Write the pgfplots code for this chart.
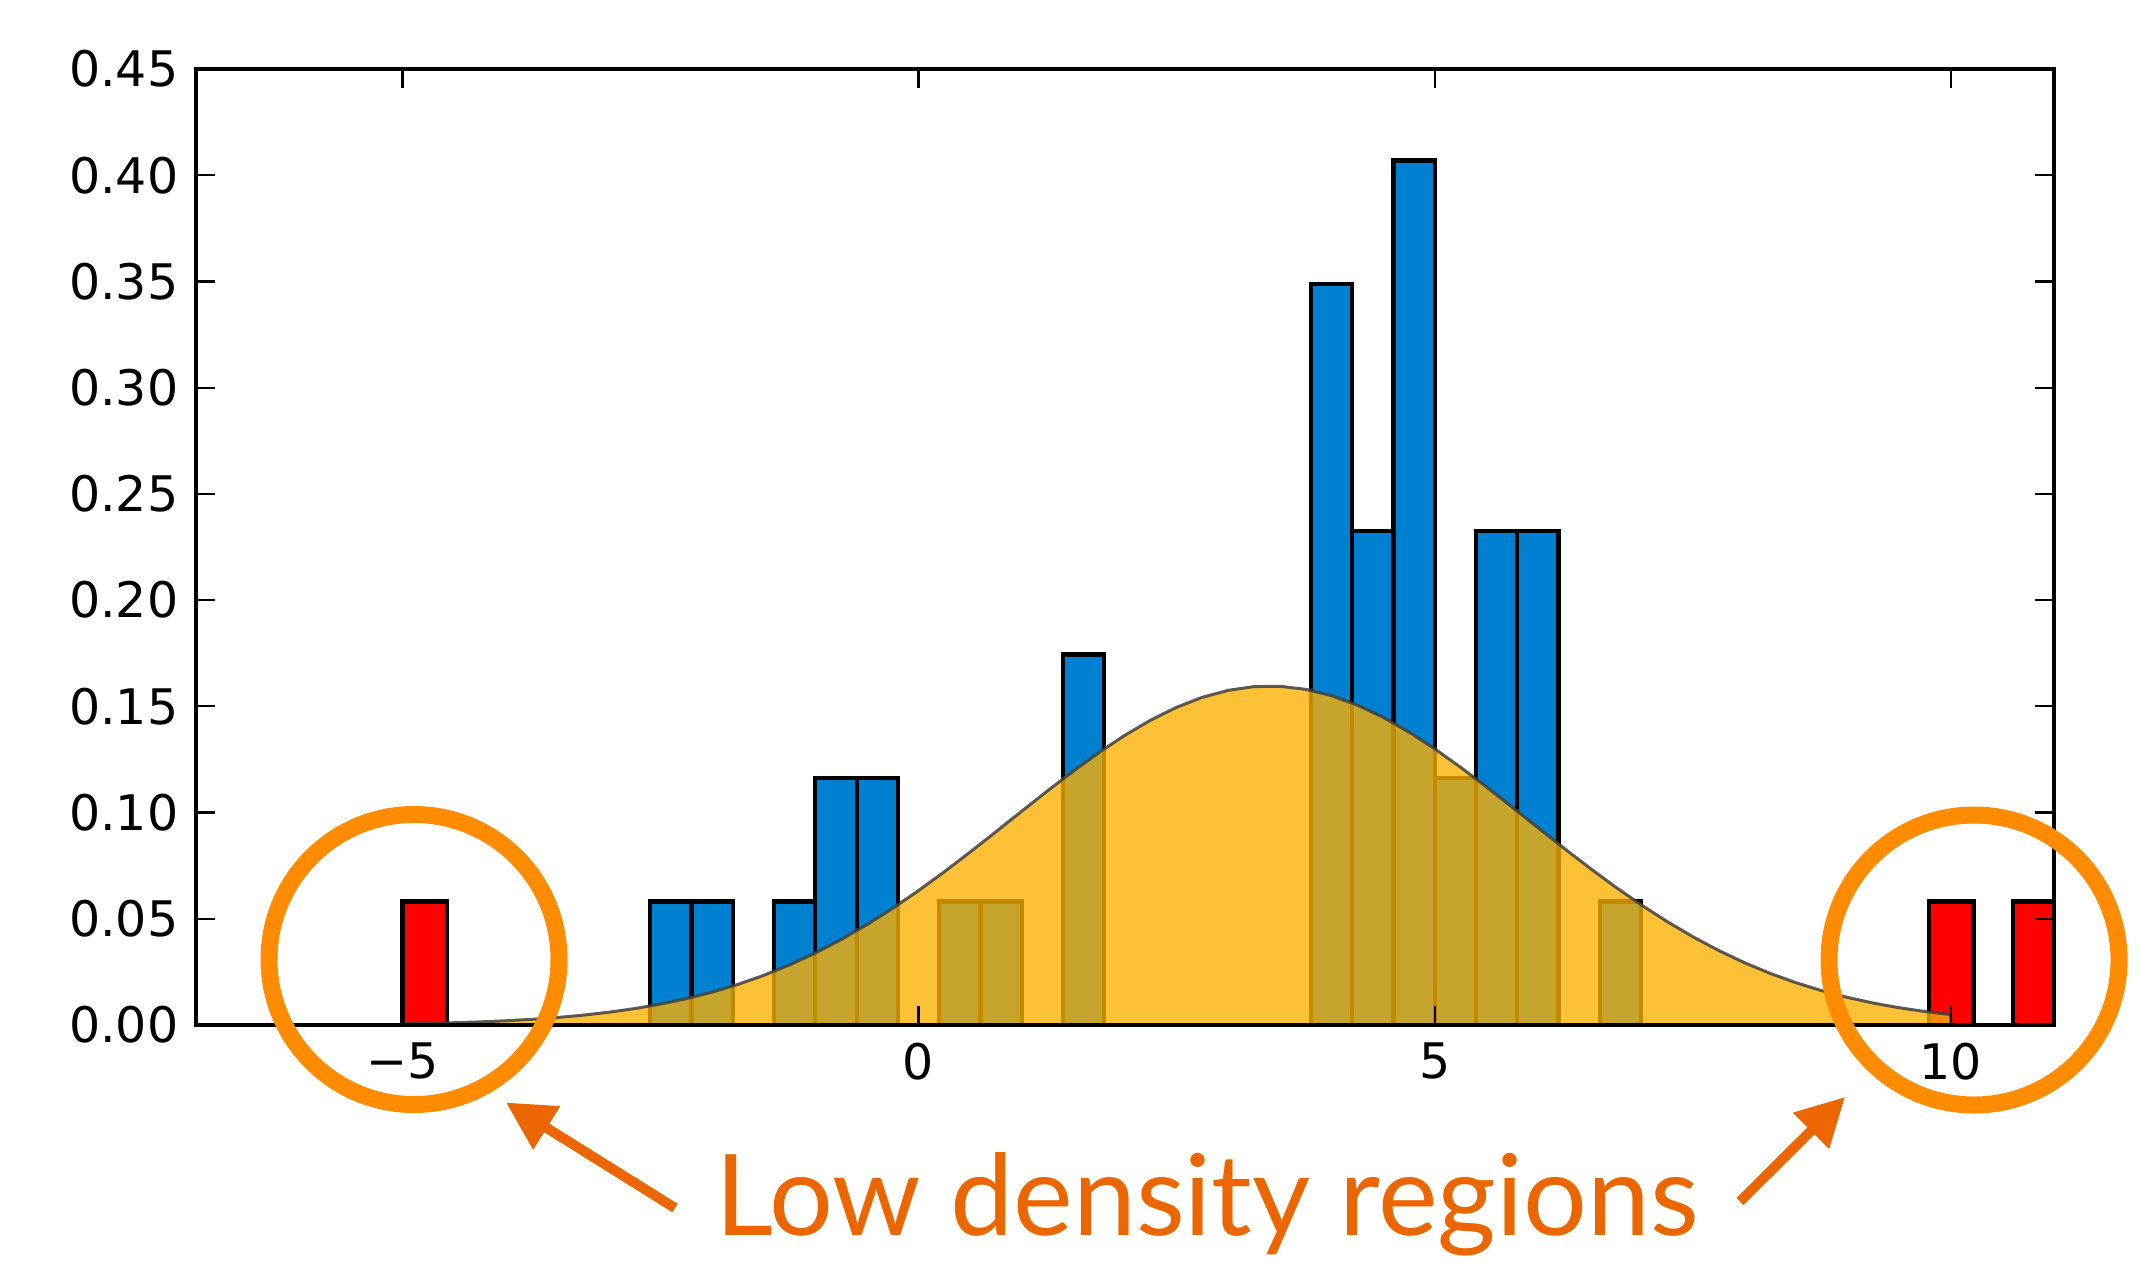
\documentclass[border=0pt]{standalone}
\usepackage{fontspec}
\setmainfont{DejaVu Sans}
\newfontfamily\gillfont{Lato}
\usepackage{graphicx}
\usepackage{pgfplots}
\pgfplotsset{compat=1.18}
\usetikzlibrary{arrows.meta}

\definecolor{barblue}{RGB}{0,128,208}
\definecolor{gaussyellow}{RGB}{253,176,0}
\definecolor{ringorange}{RGB}{255,140,0}
\definecolor{arroworange}{RGB}{236,102,0}

\begin{document}
\begin{tikzpicture}
\path[use as bounding box] (0,0) rectangle (428pt,255.6pt);
\begin{axis}[
    at={(39.2pt,50.6pt)}, anchor=south west,
    scale only axis, width=371.6pt, height=191.2pt,
    xmin=-7, xmax=11, ymin=0, ymax=0.45,
    xtick={-5,0,5,10}, xticklabels={−5,0,5,10},
    ytick={0,0.05,0.10,0.15,0.20,0.25,0.30,0.35,0.40,0.45},
    yticklabels={0.00,0.05,0.10,0.15,0.20,0.25,0.30,0.35,0.40,0.45},
    tick align=inside, tick pos=both,
    major tick length=3.8pt,
    every tick/.style={black, line width=0.45pt},
    axis line style={line width=0.85pt},
    tick label style={font=\fontsize{9.8}{12}\selectfont},
    axis on top,
]
% blue histogram (bins of 0.4)
\addplot[ybar interval, fill=barblue, draw=black, line width=0.85pt] coordinates {
    (-2.6,0.0581) (-2.2,0.0581) (-1.8,0) (-1.4,0.0581) (-1.0,0.1163)
    (-0.6,0.1163) (-0.2,0) (0.2,0.0581) (0.6,0.0581) (1.0,0)
    (1.4,0.1744) (1.8,0) (2.2,0) (2.6,0) (3.0,0) (3.4,0)
    (3.8,0.3488) (4.2,0.2326) (4.6,0.4070) (5.0,0.1163) (5.4,0.2326)
    (5.8,0.2326) (6.2,0) (6.6,0.0581) (7.0,0)
};
% outliers
\addplot[ybar interval, fill=red, draw=black, line width=0.85pt] coordinates {(-5.0,0.0581) (-4.57,0)};
\addplot[ybar interval, fill=red, draw=black, line width=0.85pt] coordinates {(9.79,0.0581) (10.22,0)};
\addplot[ybar interval, fill=red, draw=black, line width=0.85pt] coordinates {(10.6,0.0581) (11.0,0)};
% fitted gaussian
\addplot[sharp plot, draw=black!75, draw opacity=0.85, line width=0.6pt,
         fill=gaussyellow, fill opacity=0.78] coordinates {
    (-5.0,0.000565) (-4.75,0.000786) (-4.5,0.001084) (-4.25,0.001479)
    (-4.0,0.001998) (-3.75,0.002672) (-3.5,0.003540) (-3.25,0.004641)
    (-3.0,0.006025) (-2.75,0.007743) (-2.5,0.009852) (-2.25,0.012411)
    (-2.0,0.015482) (-1.75,0.019122) (-1.5,0.023378) (-1.25,0.028295)
    (-1.0,0.033911) (-0.75,0.040237) (-0.5,0.047264) (-0.25,0.054966)
    (0.0,0.063292) (0.25,0.072150) (0.5,0.081430) (0.75,0.090990)
    (1.0,0.100660) (1.25,0.110254) (1.5,0.119553) (1.75,0.128351)
    (2.0,0.136421) (2.25,0.143560) (2.5,0.149567) (2.75,0.154277)
    (3.0,0.157550) (3.25,0.159293) (3.5,0.159452) (3.75,0.158024)
    (4.0,0.155049) (4.25,0.150618) (4.5,0.144857) (4.75,0.137930)
    (5.0,0.130028) (5.25,0.121358) (5.5,0.112142) (5.75,0.102591)
    (6.0,0.092918) (6.25,0.083321) (6.5,0.073977) (6.75,0.065025)
    (7.0,0.056586) (7.25,0.048752) (7.5,0.041587) (7.75,0.035118)
    (8.0,0.029361) (8.25,0.024308) (8.5,0.019922) (8.75,0.016163)
    (9.0,0.012983) (9.25,0.010325) (9.5,0.008131) (9.75,0.006340)
    (10.0,0.004894)
} \closedcycle;
\end{axis}

% annotations
\draw[ringorange, line width=3.4pt] (82.8pt,63.7pt) circle[radius=29pt];
\draw[ringorange, line width=3.4pt] (394.8pt,63.6pt) circle[radius=29pt];
\draw[arroworange, line width=2pt, -{Triangle[length=9.6pt,width=9.7pt]}]
    (135pt,14pt) -- (101.2pt,35.1pt);
\draw[arroworange, line width=2pt, -{Triangle[length=9.6pt,width=9.7pt]}]
    (348pt,15.3pt) -- (369pt,36.2pt);
\node[anchor=base, text=arroworange, inner sep=0pt] at (241.5pt,8.6pt)
    {\resizebox{196.6pt}{!}{\gillfont Low density regions}};
\end{tikzpicture}
\end{document}
